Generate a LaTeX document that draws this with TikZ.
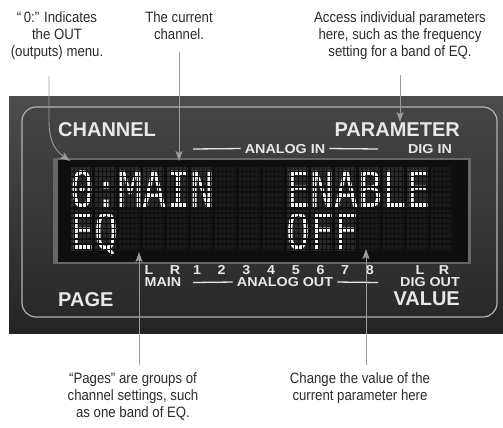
\documentclass[tikz,border=0pt]{standalone}
\usepackage{fontspec}
\setmainfont{Liberation Sans}[FakeStretch=0.88]
\newfontfamily\panelfont{Liberation Sans}
\newfontfamily\tagfont{Liberation Sans}[FakeStretch=1.1]
\newfontfamily\lcdfont{DejaVu Sans Mono}
\usepackage{tikz}
\usetikzlibrary{arrows.meta, positioning}
\definecolor{notetext}{HTML}{2B2B2B}
\definecolor{arrowgray}{HTML}{9B9B9B}
\definecolor{captext}{HTML}{E8E8E8}
\definecolor{lcdlit}{HTML}{F4F4F4}
\definecolor{lcdbg}{HTML}{0E0E0E}
\definecolor{lcdcell}{HTML}{1A1A1A}
\definecolor{lcdglow}{HTML}{2A2A2A}
\definecolor{bezel}{HTML}{666666}

\begin{document}
\begin{tikzpicture}[x=1pt, y=-1pt, >={Stealth[length=10pt, width=7pt, inset=2pt]},
    note/.style={align=center, font=\fontsize{15}{17}\selectfont, text=notetext, inner sep=0pt, anchor=north},
    callout/.style={->, draw=arrowgray, line width=0.9pt},
    bigcap/.style={font=\panelfont\bfseries\fontsize{20}{20}\selectfont, text=captext, inner sep=0pt},
    smallcap/.style={font=\tagfont\bfseries\fontsize{13}{13}\selectfont, text=captext, inner sep=0pt, anchor=base},
    lcdtext/.style={font=\lcdfont\fontsize{40}{40}\selectfont, text=lcdlit, inner sep=0pt, anchor=base west,
        text height=29pt, text depth=0pt, yscale=1.24, transform shape},
    rulebar/.style={draw=captext, line width=1.3pt}]
    \useasboundingbox (0,0) rectangle (503,428);

    % front panel
    \fill[top color=black!70, bottom color=black!86] (9,96) rectangle (503,333);
    \draw[top color=black!73, bottom color=black!84, draw=black!30, line width=1.2pt, rounded corners=14pt]
        (22,107) rectangle (497,317);

    % display
    \fill[bezel] (53,158) rectangle (471,264);
    \fill[lcdbg] (58,160) rectangle (468,262);
    \foreach \c in {0,...,15}
        \foreach \r in {0,1}
            \fill[lcdcell] ({70+24*\c},{166+44*\r}) rectangle +(22,41);
    \foreach \c/\r in {0/0,1/0,2/0,3/0,4/0,5/0,9/0,10/0,11/0,12/0,13/0,14/0,0/1,1/1,9/1,10/1,11/1}
        \fill[lcdglow] ({70+24*\c},{166+44*\r}) rectangle +(22,41);

    \node[lcdtext] (chanrow) at (70,207) {0:MAIN};
    \node[lcdtext] (parmrow) at (286,207) {ENABLE};
    \node[lcdtext] (pagerow) at (70,249) {EQ};
    \node[lcdtext] (valrow) at (286,249) {OFF};

    \foreach \k in {0,...,99}
        \draw[lcdbg, line width=1.2pt] ({70.5+4*\k},164) -- ++(0,92);
    \foreach \k in {0,...,17}
        \draw[lcdbg, line width=1.4pt] (62,{166+5.2*\k}) -- ++(402,0);

    % panel captions
    \node[bigcap, anchor=base west] (chanlbl) at (58,136) {CHANNEL};
    \node[bigcap, anchor=base east] (parmlbl) at (460,136) {PARAMETER};
    \node[bigcap, anchor=base west] (pagelbl) at (58,306) {PAGE};
    \node[bigcap, anchor=base east] (vallbl) at (460,305) {VALUE};

    \node[smallcap] (ainlbl) at (285,153) {ANALOG IN};
    \node[smallcap] (dinlbl) at (430,153) {DIG IN};
    \draw[rulebar] ([xshift=-4pt]ainlbl.west) -- (193,149);
    \draw[rulebar] ([xshift=4pt]ainlbl.east) -- (378,149);

    \node[smallcap] (mainl) at (149,274) {L};
    \node[smallcap] (mainr) at (175,274) {R};
    \foreach \n in {1,...,8}
        \node[smallcap] (aout\n) at ({172.3+24.7*\n},274) {\n};
    \node[smallcap] (digl) at (420,274) {L};
    \node[smallcap] (digr) at (444,274) {R};

    \node[smallcap] (mainlbl) at (163,286.5) {MAIN};
    \node[smallcap] (aoutlbl) at (285,286.5) {ANALOG OUT};
    \node[smallcap] (doutlbl) at (430,286.5) {DIG OUT};
    \draw[rulebar] ([xshift=-4pt]aoutlbl.west) -- (193,282.5);
    \draw[rulebar] ([xshift=4pt]aoutlbl.east) -- (378,282.5);

    % notes
    \node[note] (outnote) at (57,11) {“\,0:” Indicates\\the OUT\\(outputs) menu.};
    \node[note] (channote) at (179,11) {The current\\channel.};
    \node[note] (parmnote) at (400,11) {Access individual parameters\\here, such as the frequency\\setting for a band of EQ.};
    \node[note] (pagenote) at (133,372) {“Pages” are groups of\\channel settings, such\\as one band of EQ.};
    \node[note] (valnote) at (360,372) {Change the value of the\\current parameter here};

    \coordinate (outtip) at (70,161);
    \draw[callout] ([xshift=-8pt, yshift=-17pt]outnote.south) -- ++(0,44)
        .. controls +(0,22) and +(-14,-10) .. (outtip);
    \draw[callout] ([yshift=-13pt]channote.south) -- (channote.south |- outtip);
    \draw[callout] ([yshift=-16pt]parmnote.south) -- (parmnote.south |- parmlbl.north);
    \draw[callout] ([xshift=6pt, yshift=7pt]pagenote.north) -- ++(0,-113);
    \draw[callout] ([xshift=6pt, yshift=7pt]valnote.north) -- ++(0,-116);
\end{tikzpicture}
\end{document}
